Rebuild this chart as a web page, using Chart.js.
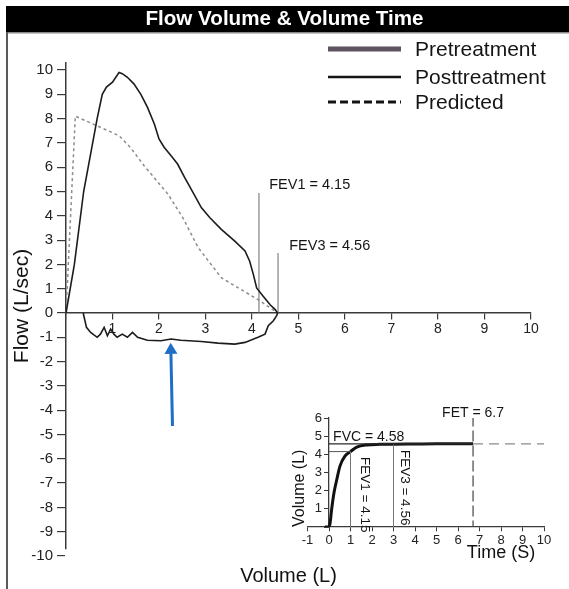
<!DOCTYPE html>
<html>
<head>
<meta charset="utf-8">
<script src="https://cdn.jsdelivr.net/npm/chart.js@4.4.1/dist/chart.umd.min.js"></script>
<style>
html,body{margin:0;padding:0;background:#fff;}
#wrap{position:relative;width:569px;height:589px;overflow:hidden;}
#main{position:absolute;left:0;top:0;}
#inset{position:absolute;left:270px;top:395px;}
</style>
</head>
<body>
<div id="wrap">
<canvas id="main" width="569" height="589"></canvas>
<canvas id="inset" width="299" height="180"></canvas>
</div>
<script>
// ---------------- DATA ----------------
const chartTitle = 'Flow Volume & Volume Time';
const legendLabels = ['Pretreatment', 'Posttreatment', 'Predicted'];

// Flow-volume loop, posttreatment (expiratory limb)
const expVolume = [0, 0.18, 0.38, 0.67, 0.78, 0.87, 1.0, 1.14, 1.21, 1.32, 1.46, 1.61, 1.75, 1.9, 2.0, 2.11, 2.26, 2.4, 2.55, 2.73, 2.91, 3.09, 3.34, 3.63, 3.85, 3.95, 4.03, 4.1, 4.24, 4.39, 4.5, 4.55];
const expFlow   = [0, 2, 5, 8, 9, 9.3, 9.5, 9.9, 9.85, 9.7, 9.43, 9.0, 8.47, 7.78, 7.16, 6.82, 6.47, 6.13, 5.58, 4.96, 4.34, 3.93, 3.44, 2.96, 2.55, 2.13, 1.58, 1.03, 0.69, 0.34, 0.14, 0];
// inspiratory limb (from end of expiration back)
const inspVolume = [4.55, 4.53, 4.46, 4.35, 4.28, 4.13, 3.85, 3.63, 3.27, 2.91, 2.47, 2.26, 2.04, 1.75, 1.54, 1.43, 1.32, 1.21, 1.1, 1.03, 0.96, 0.89, 0.82, 0.74, 0.67, 0.53, 0.44, 0.37];
const inspFlow   = [0, -0.11, -0.32, -0.52, -0.87, -1.0, -1.21, -1.28, -1.24, -1.17, -1.12, -1.07, -1.14, -1.12, -1.0, -0.8, -1.0, -0.87, -1.0, -0.87, -0.66, -0.94, -0.59, -0.87, -1.0, -0.8, -0.59, 0];
// predicted
const predVolume = [0, 0.2, 0.67, 1.14, 1.39, 1.68, 2.19, 2.51, 2.84, 3.34, 3.77, 4.13, 4.5];
const predFlow   = [0, 8.1, 7.7, 7.3, 6.8, 6.06, 4.9, 3.93, 2.7, 1.45, 0.96, 0.55, 0.07];

// markers
const fev1 = 4.15, fev3 = 4.56, fvc = 4.58, fet = 6.7;
const fev1LineTop = 4.94, fev3LineTop = 2.47;
const arrowVolume = [2.29, 2.255];
const arrowFlow   = [-4.65, -1.53];

// volume-time curve
const timeS   = [-0.19, 0, 0.05, 0.12, 0.23, 0.36, 0.51, 0.74, 1.0, 1.29, 1.75, 2.37, 3, 4, 5, 6, 6.7];
const volumeL = [0, 0.02, 0.2, 0.94, 1.87, 2.6, 3.35, 3.9, 4.15, 4.4, 4.52, 4.55, 4.56, 4.57, 4.58, 4.58, 4.58];

// axis ranges
const mainX = [0, 10], mainY = [-10, 10];
const insetX = [-1, 10], insetY = [0, 6];

// ---------------- HELPERS ----------------
const FONT = "'Liberation Sans', Arial, Helvetica, sans-serif";
Chart.defaults.font.family = FONT;
Chart.defaults.color = '#222';
const pts = (xs, ys) => xs.map((v, i) => ({x: v, y: ys[i]}));
const AX = '#3a3a3a';

// ---------------- MAIN CHART ----------------
const frame = {
  id: 'frame',
  beforeDraw(chart) {
    const ctx = chart.ctx;
    ctx.save();
    ctx.fillStyle = '#fff'; ctx.fillRect(0, 0, chart.width, chart.height);
    ctx.fillStyle = '#000'; ctx.fillRect(6, 6, chart.width - 6, 26);
    ctx.fillStyle = '#8a8a8a'; ctx.fillRect(6, 32, chart.width - 6, 1.5);
    ctx.fillStyle = '#5a5a5a'; ctx.fillRect(6, 32, 2, chart.height - 32);
    ctx.restore();
  },
  afterLayout(chart) {
    const s = chart.scales.xt;
    s.left -= 10; s.right -= 10;
    // move only the y-axis title up a little (pixel mapping is already configured)
    const y = chart.scales.y;
    y.top -= 7; y.bottom -= 7;
  }
};

const legendStyles = [
  {color: '#5d5460', width: 5, dash: []},
  {color: '#141414', width: 2.5, dash: []},
  {color: '#141414', width: 3, dash: [8, 4]}
];

const mainNotes = {
  id: 'mainNotes',
  afterDraw(chart) {
    const {ctx, scales: {x, y}} = chart;
    ctx.save();
    ctx.fillStyle = '#151515';
    ctx.textAlign = 'left';
    ctx.textBaseline = 'middle';
    ctx.font = '14.5px ' + FONT;
    ctx.fillText('FEV1 = ' + fev1.toFixed(2), x.getPixelForValue(4.37), y.getPixelForValue(5.27));
    ctx.fillText('FEV3 = ' + fev3.toFixed(2), x.getPixelForValue(4.80), y.getPixelForValue(2.76));
    // legend
    const rows = [49, 77, 102];
    legendLabels.forEach((lab, i) => {
      const st = legendStyles[i];
      ctx.beginPath();
      ctx.setLineDash(st.dash);
      ctx.lineWidth = st.width;
      ctx.strokeStyle = st.color;
      ctx.moveTo(328, rows[i]); ctx.lineTo(401, rows[i]);
      ctx.stroke();
      ctx.setLineDash([]);
      ctx.font = '21px ' + FONT;
      ctx.fillStyle = '#151515';
      ctx.fillText(lab, 415, rows[i] + 1);
    });
    ctx.restore();
  }
};

new Chart(document.getElementById('main'), {
  type: 'scatter',
  data: {
    datasets: [
      {label: legendLabels[0], data: [], showLine: true, borderColor: '#5d5460', borderWidth: 5, pointRadius: 0},
      {label: legendLabels[1], data: pts(expVolume, expFlow).concat(pts(inspVolume, inspFlow)), showLine: true,
       borderColor: '#1c1c1c', borderWidth: 1.6, pointRadius: 0, tension: 0},
      {label: legendLabels[2], data: pts(predVolume, predFlow), showLine: true, borderColor: '#8c8c8c',
       borderWidth: 1.5, borderDash: [3, 3], pointRadius: 0},
      {label: 'FEV1', data: pts([fev1, fev1], [0, fev1LineTop]), showLine: true, borderColor: '#6a6a6a', borderWidth: 1, pointRadius: 0},
      {label: 'FEV3', data: pts([fev3, fev3], [0, fev3LineTop]), showLine: true, borderColor: '#6a6a6a', borderWidth: 1, pointRadius: 0},
      {label: 'arrow', data: pts(arrowVolume, arrowFlow), showLine: true, borderColor: '#1f6fc6', borderWidth: 3,
       pointRadius: [0, 7.5], pointStyle: 'triangle', pointBackgroundColor: '#1f6fc6', pointBorderColor: '#1f6fc6',
       pointBorderWidth: 0, pointRotation: -1.4}
    ]
  },
  options: {
    responsive: false,
    animation: false,
    events: [],
    layout: {padding: {left: 0, right: 0, top: 0, bottom: 0}},
    plugins: {
      legend: {display: false},
      tooltip: {enabled: false},
      title: {display: true, text: chartTitle, color: '#fff',
              font: {size: 20.6, weight: 'bold', lineHeight: 1}, padding: {top: 8.7, bottom: 40.7}}
    },
    scales: {
      x: {
        type: 'linear', min: mainX[0], max: mainX[1], position: {y: 0},
        afterFit(s) { s.height = 0; },
        border: {display: true, color: AX, width: 1.5},
        grid: {display: true, drawOnChartArea: false, drawTicks: true, tickLength: 6, color: AX, lineWidth: 1.2},
        ticks: {stepSize: 1, color: '#222', font: {size: 14}, padding: 2, maxRotation: 0, autoSkip: false,
                callback: v => (v === 0 ? '' : v)}
      },
      y: {
        type: 'linear', min: mainY[0], max: mainY[1], position: 'left',
        afterFit(s) { s.width = 66; },
        border: {display: true, color: AX, width: 1.5},
        grid: {display: true, drawOnChartArea: false, drawTicks: true, tickLength: 9, color: AX, lineWidth: 1.2},
        ticks: {stepSize: 1, color: '#222', font: {size: 15}, padding: 4, autoSkip: false},
        title: {display: true, text: 'Flow (L/sec)', color: '#111', font: {size: 21, lineHeight: 1}, padding: {top: 12, bottom: 0}}
      },
      yr: {
        type: 'linear', position: 'right', display: true,
        afterFit(s) { s.width = 38; },
        grid: {display: false}, border: {display: false}, ticks: {display: false}
      },
      xt: {
        type: 'linear', position: 'bottom', display: true,
        afterFit(s) { s.height = 33; },
        grid: {display: false}, border: {display: false}, ticks: {display: false},
        title: {display: true, text: 'Volume (L)', color: '#111', font: {size: 20, lineHeight: 1}, padding: {top: 0, bottom: 3}}
      }
    }
  },
  plugins: [frame, mainNotes]
});

// ---------------- INSET CHART ----------------
const insetFix = {
  id: 'insetFix',
  afterLayout(chart) {
    const y = chart.scales.y, x = chart.scales.x, xt = chart.scales.xt;
    const w = y.width;
    y.right = x.getPixelForValue(0);
    y.left = y.right - w;
    const c = x.getPixelForValue(8.0);
    const half = (xt.right - xt.left) / 2;
    xt.left = c - half; xt.right = c + half;
  },
  afterDraw(chart) {
    const {ctx, scales: {x, y}} = chart;
    ctx.save();
    ctx.fillStyle = '#151515';
    ctx.font = '14px ' + FONT;
    ctx.textBaseline = 'middle';
    ctx.textAlign = 'left';
    ctx.fillText('FVC = ' + fvc.toFixed(2), x.getPixelForValue(0.19), y.getPixelForValue(4.95));
    ctx.textAlign = 'center';
    ctx.fillText('FET = ' + fet, x.getPixelForValue(fet), y.getPixelForValue(6.27));
    ctx.font = '13.5px ' + FONT;
    ctx.textAlign = 'left';
    const rot = (txt, vx, vy) => {
      ctx.save();
      ctx.translate(x.getPixelForValue(vx), y.getPixelForValue(vy));
      ctx.rotate(Math.PI / 2);
      ctx.fillText(txt, 0, 0);
      ctx.restore();
    };
    rot('FEV1 = ' + fev1.toFixed(2), 1.65, 3.85);
    rot('FEV3 = ' + fev3.toFixed(2), 3.53, 4.24);
    ctx.restore();
  }
};

new Chart(document.getElementById('inset'), {
  type: 'scatter',
  data: {
    datasets: [
      {label: 'FVC dashed', data: pts([fet, insetX[1]], [fvc, fvc]), showLine: true, borderColor: '#8a8a8a',
       borderWidth: 1.3, borderDash: [10, 6], pointRadius: 0},
      {label: 'FVC', data: pts([0, fet], [fvc, fvc]), showLine: true, borderColor: '#2a2a2a', borderWidth: 1.3, pointRadius: 0},
      {label: 'FEV1 h', data: pts([0, 1], [fev1, fev1]), showLine: true, borderColor: '#555', borderWidth: 1, pointRadius: 0},
      {label: 'FEV1 v', data: pts([1, 1], [0, fev1]), showLine: true, borderColor: '#777', borderWidth: 1, pointRadius: 0},
      {label: 'FEV3 v', data: pts([3, 3], [0, fev3]), showLine: true, borderColor: '#777', borderWidth: 1, pointRadius: 0},
      {label: 'FET', data: pts([fet, fet], [-0.25, 6]), showLine: true, borderColor: '#444', borderWidth: 1.2,
       borderDash: [11, 4], pointRadius: 0},
      {label: 'Volume', data: pts(timeS, volumeL), showLine: true, borderColor: '#111', borderWidth: 3,
       pointRadius: 0, cubicInterpolationMode: 'monotone'}
    ]
  },
  options: {
    responsive: false,
    animation: false,
    events: [],
    layout: {padding: {left: 0, right: 25, top: 23, bottom: 0}},
    plugins: {legend: {display: false}, tooltip: {enabled: false}, title: {display: false}},
    scales: {
      x: {
        type: 'linear', min: insetX[0], max: insetX[1], position: {y: 0},
        afterFit(s) { s.height = 0; },
        border: {display: true, color: AX, width: 1.3},
        grid: {display: true, drawOnChartArea: false, drawTicks: true, tickLength: 4, color: AX, lineWidth: 1},
        ticks: {stepSize: 1, color: '#222', font: {size: 13}, padding: 2, maxRotation: 0, autoSkip: false}
      },
      y: {
        type: 'linear', min: insetY[0], max: insetY[1], position: 'left',
        afterFit(s) { s.width = 37.5; },
        border: {display: true, color: AX, width: 1.3},
        grid: {display: true, drawOnChartArea: false, drawTicks: true, tickLength: 5, color: AX, lineWidth: 1},
        ticks: {stepSize: 1, color: '#222', font: {size: 13}, padding: 2, autoSkip: false,
                callback: v => (v === 0 ? '' : v)},
        title: {display: true, text: 'Volume (L)', align: 'start', color: '#111', font: {size: 16, lineHeight: 1}, padding: {top: 0, bottom: 0}}
      },
      xt: {
        type: 'linear', position: 'bottom', display: true,
        afterFit(s) { s.height = 48; },
        grid: {display: false}, border: {display: false}, ticks: {display: false},
        title: {display: true, text: 'Time (S)', color: '#111', font: {size: 18, lineHeight: 1}, padding: {top: 0, bottom: 13}}
      }
    }
  },
  plugins: [insetFix]
});
</script>
</body>
</html>
